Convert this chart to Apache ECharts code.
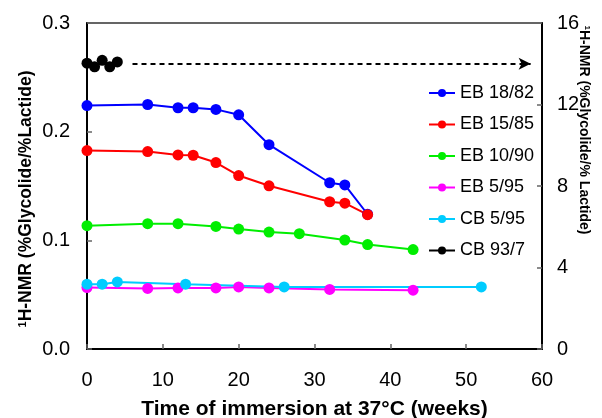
<!DOCTYPE html>
<html>
<head>
<meta charset="utf-8">
<script src="https://cdn.jsdelivr.net/npm/echarts@6/dist/echarts.min.js"></script>
<style>
  html, body { margin: 0; padding: 0; background: #fff; }
  #chart { width: 602px; height: 418px; }
</style>
</head>
<body>
<div id="chart"></div>
<script>
// weeks / ratio values
const eb1882Weeks = [0, 8, 12, 14, 17, 20, 24, 32, 34, 37]
const eb1882Vals = [0.224, 0.225, 0.222, 0.222, 0.2205, 0.2155, 0.188, 0.153, 0.151, 0.124]
const eb1585Weeks = [0, 8, 12, 14, 17, 20, 24, 32, 34, 37]
const eb1585Vals = [0.1826, 0.1817, 0.1786, 0.1783, 0.1716, 0.1596, 0.1502, 0.1355, 0.1342, 0.1236]
const eb1090Weeks = [0, 8, 12, 17, 20, 24, 28, 34, 37, 43]
const eb1090Vals = [0.1135, 0.1153, 0.1153, 0.1128, 0.1104, 0.1076, 0.1061, 0.1003, 0.0961, 0.0915]
const eb595Weeks = [0, 8, 12, 17, 20, 24, 32, 43]
const eb595Vals = [0.0566, 0.0557, 0.0562, 0.0562, 0.0571, 0.0562, 0.0548, 0.0541]
const cb595Weeks = [0, 2, 4, 13, 26, 52]
const cb595Vals = [0.0596, 0.0596, 0.0617, 0.0596, 0.0571, 0.0571]
// CB 93/7 is plotted against the right axis
const cb937Weeks = [0, 1, 2, 3, 4]
const cb937Vals = [14.03, 13.85, 14.17, 13.85, 14.09]
const arrowFrom = [6, 14]
const arrowTo = [58.5, 14]

const xTicks = { min: 0, max: 60, interval: 10 }
const leftTicks = { min: 0, max: 0.3, interval: 0.1 }
const rightTicks = { min: 0, max: 16, interval: 4 }

const zip = (xs, ys) => xs.map((x, i) => [x, ys[i]])

const mkSeries = (name, color, data, yIdx) => ({
  name: name,
  type: 'line',
  yAxisIndex: yIdx,
  data: data,
  symbol: 'circle',
  symbolSize: 11,
  color: color,
  lineStyle: { width: 2, color: color },
  itemStyle: { color: color },
  animation: false
})

const series = [
  mkSeries('EB 18/82', '#0000ff', zip(eb1882Weeks, eb1882Vals), 0),
  mkSeries('EB 15/85', '#ff0000', zip(eb1585Weeks, eb1585Vals), 0),
  mkSeries('EB 10/90', '#00ee00', zip(eb1090Weeks, eb1090Vals), 0),
  mkSeries('EB 5/95', '#ff00ff', zip(eb595Weeks, eb595Vals), 0),
  mkSeries('CB 5/95', '#00ccff', zip(cb595Weeks, cb595Vals), 0),
  mkSeries('CB 93/7', '#000000', zip(cb937Weeks, cb937Vals), 1)
]
series[5].markLine = {
  silent: true,
  symbol: ['none', 'arrow'],
  symbolSize: [9, 12],
  label: { show: false },
  lineStyle: { type: [5, 4], color: '#000', width: 2 },
  data: [[{ coord: arrowFrom }, { coord: arrowTo }]]
}

const tickFont = { fontFamily: 'Liberation Sans', fontSize: 20, color: '#000' }
const supRich = (size) => ({
  sup: { fontFamily: 'Liberation Sans', fontSize: Math.round(size * 0.6), fontWeight: 'bold', verticalAlign: 'top', padding: [0, 0, 7, 0] },
  t: { fontFamily: 'Liberation Sans', fontSize: size, fontWeight: 'bold' }
})

const Chart = echarts.init(document.getElementById('chart'))
const option = {
  backgroundColor: '#fff',
  grid: {
    left: 87, right: 60, top: 23, bottom: 69,
    outerBoundsMode: 'none',
    containLabel: false,
    show: true, borderColor: '#333', borderWidth: 1.5
  },
  legend: {
    orient: 'vertical',
    left: 423,
    top: 79,
    itemWidth: 26,
    itemHeight: 10,
    itemGap: 13.5,
    textStyle: { fontFamily: 'Liberation Sans', fontSize: 18, color: '#000' },
    data: series.map(s => s.name)
  },
  xAxis: {
    type: 'value',
    min: xTicks.min, max: xTicks.max, interval: xTicks.interval,
    name: 'Time of immersion at 37°C (weeks)',
    nameLocation: 'middle',
    nameGap: 50,
    nameTextStyle: { fontFamily: 'Liberation Sans', fontSize: 21, fontWeight: 'bold', color: '#000' },
    axisLine: { lineStyle: { color: '#000', width: 2 } },
    axisTick: { inside: true, length: 5, lineStyle: { color: '#666', width: 1.5 } },
    axisLabel: Object.assign({ margin: 21 }, tickFont),
    splitLine: { show: false }
  },
  yAxis: [
    {
      type: 'value',
      min: leftTicks.min, max: leftTicks.max, interval: leftTicks.interval,
      name: '{sup|1}{t|H-NMR (%Glycolide/%Lactide)}',
      nameLocation: 'middle',
      nameGap: 52,
      nameRotate: 90,
      nameMoveOverlap: false,
      nameTextStyle: { rich: supRich(17.5), padding: [0, 26, 0, 0] },
      axisLine: { show: true, lineStyle: { color: '#000', width: 2 } },
      axisTick: { inside: true, length: 5, lineStyle: { color: '#666', width: 1.5 } },
      axisLabel: Object.assign({ margin: 17, formatter: v => v.toFixed(1) }, tickFont),
      splitLine: { show: false }
    },
    {
      type: 'value',
      position: 'right',
      min: rightTicks.min, max: rightTicks.max, interval: rightTicks.interval,
      name: '{sup|1}{t|H-NMR (%Glycolide/% Lactide)}',
      nameLocation: 'middle',
      nameGap: 34,
      nameRotate: -90,
      nameMoveOverlap: false,
      nameTextStyle: { rich: supRich(14), padding: [0, 112, 0, 0] },
      axisLine: { show: true, lineStyle: { color: '#000', width: 2 } },
      axisTick: { inside: true, length: 5, lineStyle: { color: '#666', width: 1.5 } },
      axisLabel: Object.assign({ margin: 15 }, tickFont),
      splitLine: { show: false }
    }
  ],
  series: series
}
option && Chart.setOption(option)
</script>
</body>
</html>
